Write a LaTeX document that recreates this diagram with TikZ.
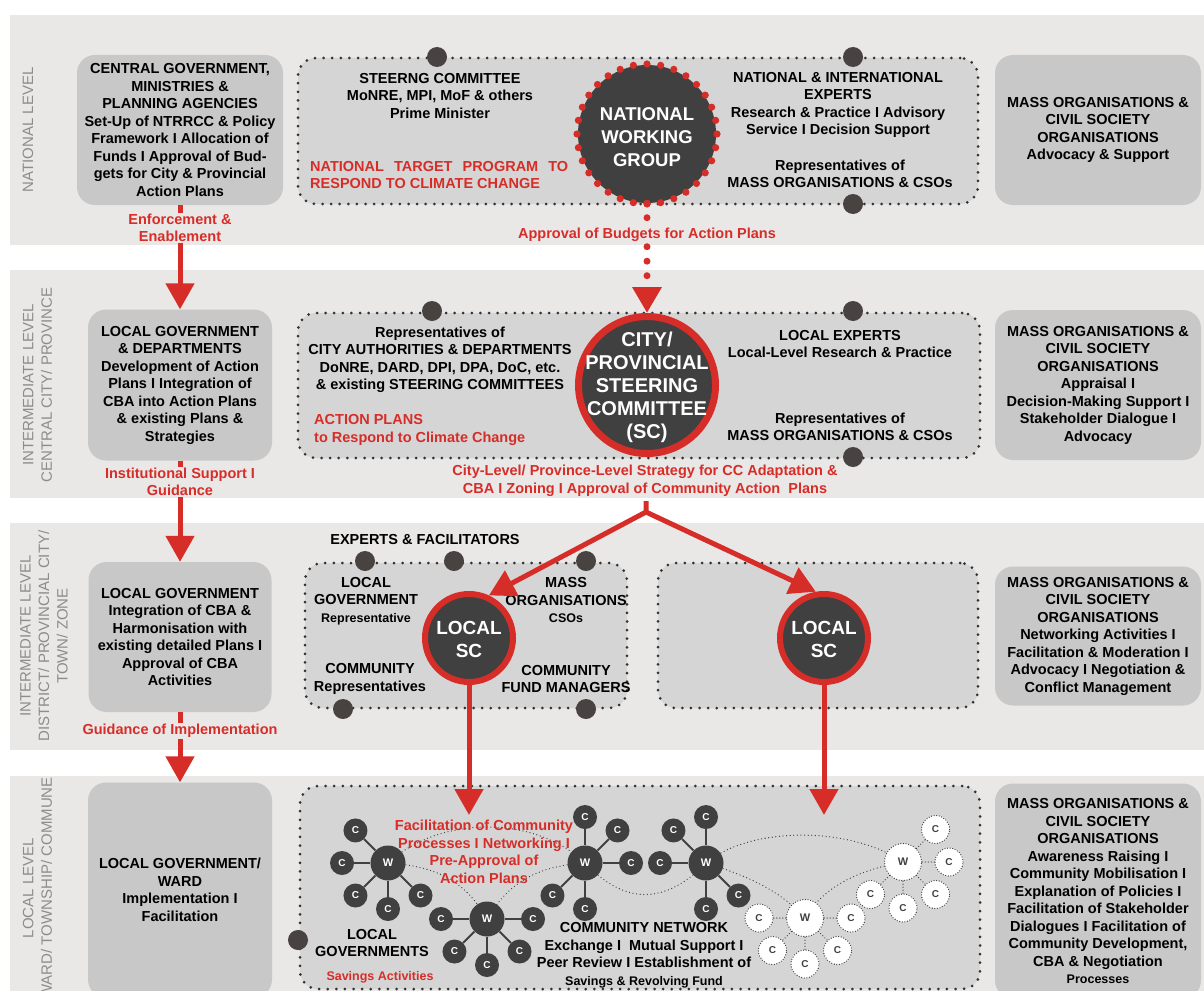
\documentclass[tikz,border=0pt]{standalone}
\usepackage{fontspec}
\setmainfont{Liberation Sans}
\usetikzlibrary{arrows.meta,calc}
\definecolor{bandgray}{RGB}{233,232,231}
\definecolor{boxgray}{RGB}{200,200,200}
\definecolor{groupgray}{RGB}{213,213,213}
\definecolor{nodedark}{RGB}{64,64,64}
\definecolor{markgray}{RGB}{72,66,64}
\definecolor{borderdark}{RGB}{50,50,50}
\definecolor{scred}{RGB}{215,45,40}
\definecolor{levelgray}{RGB}{140,140,140}
\newcommand{\bodytext}{\fontsize{14.5}{17.5}\selectfont\bfseries}
\newcommand{\smalltext}{\fontsize{12.5}{15}\selectfont\bfseries}

\begin{document}
\begin{tikzpicture}[x=1pt,y=-1pt,
  band/.style={fill=bandgray,draw=none},
  sidebox/.style={fill=boxgray,rounded corners=18pt,inner sep=0pt,align=center,font=\bodytext},
  groupbox/.style={fill=groupgray,draw=borderdark,line width=3pt,dash pattern=on 0pt off 8.6pt,line cap=round,rounded corners=18pt,inner sep=0pt},
  marker/.style={circle,fill=markgray,minimum size=20pt,inner sep=0pt},
  bodytxt/.style={font=\bodytext,align=center,inner sep=0pt},
  redlabel/.style={text=scred,font=\bodytext,align=center,inner sep=1pt},
  levellabel/.style={rotate=90,align=center,text=levelgray,font=\fontsize{15}{18.5}\selectfont,inner sep=0pt},
  circtext/.style={text=white,align=center,font=\fontsize{19}{23}\selectfont\bfseries,inner sep=0pt},
  scring/.style={circle,fill=nodedark,draw=scred,line width=7pt,inner sep=0pt},
  redarrow/.style={draw=scred,line width=5pt,-{Triangle[width=28pt,length=26pt]}},
  reddots/.style={draw=scred,line width=7pt,dash pattern=on 0pt off 14.5pt,line cap=round,-{Triangle[width=28pt,length=26pt]}},
  wdark/.style={circle,fill=nodedark,text=white,minimum size=35pt,inner sep=0pt,font=\fontsize{11}{11}\selectfont\bfseries},
  cdark/.style={circle,fill=nodedark,text=white,minimum size=24pt,inner sep=0pt,font=\fontsize{10}{10}\selectfont\bfseries},
  wopen/.style={circle,fill=white,draw=nodedark,line width=1.3pt,dash pattern=on 0pt off 2.6pt,line cap=round,text=nodedark,minimum size=37pt,inner sep=0pt,font=\fontsize{11}{11}\selectfont\bfseries},
  copen/.style={wopen,minimum size=28pt,font=\fontsize{10}{10}\selectfont\bfseries},
  spoke/.style={draw=nodedark,line width=1.8pt},
  spokeopen/.style={draw=nodedark,line width=1.3pt,dash pattern=on 0pt off 3pt,line cap=round},
  netlink/.style={draw=nodedark,line width=1.3pt,dash pattern=on 0pt off 3.6pt,line cap=round}]

  \useasboundingbox (0,0) rectangle (1204,990);
  \clip (0,0) rectangle (1204,990);

  % Level bands
  \fill[band] (10,15) rectangle (1204,245);
  \fill[band] (10,270) rectangle (1204,498);
  \fill[band] (10,523) rectangle (1204,750);
  \fill[band] (10,776) rectangle (1204,1000);

  % Level titles
  \node[levellabel] (lvl1) at (28,130) {NATIONAL LEVEL};
  \node[levellabel] (lvl2) at (37.5,385) {INTERMEDIATE LEVEL\\CENTRAL CITY/ PROVINCE};
  \node[levellabel] (lvl3) at (44,636) {INTERMEDIATE LEVEL\\DISTRICT/ PROVINCIAL CITY/\\TOWN/ ZONE};
  \node[levellabel] (lvl4) at (37.5,888) {LOCAL LEVEL\\WARD/ TOWNSHIP/ COMMUNE};

  % Government column
  \node[sidebox,minimum width=206,minimum height=150] (cg) at (180,130)
    {CENTRAL GOVERNMENT,\\MINISTRIES \&\\PLANNING AGENCIES\\Set-Up of NTRRCC \& Policy\\Framework I Allocation of\\Funds I Approval of Bud-\\gets for City \& Provincial\\Action Plans};
  \node[sidebox,minimum width=184,minimum height=151] (lgd) at (180,385)
    {LOCAL GOVERNMENT\\\& DEPARTMENTS\\Development of Action\\Plans I Integration of\\CBA into Action Plans\\\& existing Plans \&\\Strategies};
  \node[sidebox,minimum width=183,minimum height=150] (lgi) at (180,637)
    {LOCAL GOVERNMENT\\Integration of CBA \&\\Harmonisation with\\existing detailed Plans I\\Approval of CBA\\Activities};
  \node[sidebox,minimum width=184,minimum height=215] (lgw) at (180,890)
    {LOCAL GOVERNMENT/\\WARD\\Implementation I\\Facilitation};

  % Mass organisation column
  \node[sidebox,minimum width=206,minimum height=150] (mo1) at (1098,130)
    {MASS ORGANISATIONS \&\\CIVIL SOCIETY\\ORGANISATIONS\\Advocacy \& Support};
  \node[sidebox,minimum width=206,minimum height=150] (mo2) at (1098,385)
    {MASS ORGANISATIONS \&\\CIVIL SOCIETY\\ORGANISATIONS\\Appraisal I\\Decision-Making Support I\\Stakeholder Dialogue I\\Advocacy};
  \node[sidebox,minimum width=206,minimum height=139] (mo3) at (1098,636)
    {MASS ORGANISATIONS \&\\CIVIL SOCIETY\\ORGANISATIONS\\Networking Activities I\\Facilitation \& Moderation I\\Advocacy I Negotiation \&\\Conflict Management};
  \node[sidebox,minimum width=206,minimum height=215] (mo4) at (1098,891)
    {MASS ORGANISATIONS \&\\CIVIL SOCIETY\\ORGANISATIONS\\Awareness Raising I\\Community Mobilisation I\\Explanation of Policies I\\Facilitation of Stakeholder\\Dialogues I Facilitation of\\Community Development,\\CBA \& Negotiation\\{\smalltext Processes}};

  % Dotted group boxes
  \node[groupbox,minimum width=680,minimum height=146] (grp1) at (638,131) {};
  \node[groupbox,minimum width=682,minimum height=145] (grp2) at (639,385.5) {};
  \node[groupbox,minimum width=322,minimum height=145] (grp3a) at (466,635.5) {};
  \node[groupbox,minimum width=320,minimum height=145] (grp3b) at (818,635.5) {};
  \node[groupbox,minimum width=680,minimum height=203] (grp4) at (640,887.5) {};

  % Markers on the group boxes
  \foreach \p [count=\i] in {{437,57},{853,57},{853,204},{432,311},{853,311},{853,457},
      {365,561},{454,561},{586,561},{343,709},{586,709},{298,940}}
    \node[marker] (mk\i) at (\p) {};

  % Texts in the group boxes
  \node[bodytxt] (steer) at (440,96) {STEERNG COMMITTEE\\MoNRE, MPI, MoF \& others\\Prime Minister};
  \node[bodytxt] (natexp) at (838,105) {NATIONAL \& INTERNATIONAL\\EXPERTS\\Research \& Practice I Advisory\\Service I Decision Support};
  \node[bodytxt] (natrep) at (840,174) {Representatives of\\MASS ORGANISATIONS \& CSOs};
  \node[redlabel,anchor=west,align=left,inner sep=0pt] (ntp) at (310,175)
    {\makebox[258pt][s]{NATIONAL TARGET PROGRAM TO}\\RESPOND TO CLIMATE CHANGE};
  \node[bodytxt] (cityrep) at (440,360) {Representatives of\\CITY AUTHORITIES \& DEPARTMENTS\\DoNRE, DARD, DPI, DPA, DoC, etc.\\\& existing STEERING COMMITTEES};
  \node[redlabel,anchor=west,align=left,inner sep=0pt] (actp) at (314,430) {ACTION PLANS\\to Respond to Climate Change};
  \node[bodytxt] (locexp) at (840,344) {LOCAL EXPERTS\\Local-Level Research \& Practice};
  \node[bodytxt] (cityorg) at (840,427) {Representatives of\\MASS ORGANISATIONS \& CSOs};
  \node[bodytxt] (expfac) at (425,540) {EXPERTS \& FACILITATORS};
  \node[bodytxt] (locgov) at (366,601) {LOCAL\\GOVERNMENT\\{\smalltext Representative}};
  \node[bodytxt] (massorg) at (566,600) {MASS\\ORGANISATIONS\\{\smalltext CSOs}};
  \node[bodytxt] (comrep) at (370,679) {COMMUNITY\\Representatives};
  \node[bodytxt] (comfund) at (566,679) {COMMUNITY\\FUND MANAGERS};

  % Steering circles
  \node[circle,fill=nodedark,minimum size=138,inner sep=0pt] (nwg) at (647,134) {};
  \foreach \a in {0,11.25,...,350}
    \fill[scred] ($(nwg)+(\a:70)$) circle (3.6);
  \node[circtext,font=\fontsize{18.5}{23}\selectfont\bfseries] (nwgtxt) at (647,137) {NATIONAL\\WORKING\\GROUP};
  \node[scring,minimum size=137] (cpsc) at (647,385) {};
  \node[circtext,font=\fontsize{20}{23}\selectfont\bfseries] (cpsctxt) at (647,387) {CITY/\\PROVINCIAL\\STEERING\\COMMITTEE\\(SC)};
  \node[scring,line width=6pt,minimum size=88] (lsc1) at (469,638) {};
  \node[circtext] (lsc1txt) at (469,639) {LOCAL\\SC};
  \node[scring,line width=6pt,minimum size=88] (lsc2) at (824,638) {};
  \node[circtext] (lsc2txt) at (824,639) {LOCAL\\SC};

  % Red connectors
  \draw[redarrow] (cg.south) -- (lgd.north);
  \node[redlabel,fill=bandgray] (enf) at (180,228) {Enforcement \&\\Enablement};
  \draw[redarrow] (lgd.south) -- (lgi.north);
  \node[redlabel,fill=bandgray] (inst) at (180,482) {Institutional Support I\\Guidance};
  \draw[redarrow] (lgi.south) -- (lgw.north);
  \node[redlabel,fill=bandgray] (guid) at (180,731) {Guidance of Implementation};

  \draw[reddots] (nwg.south) -- (cpsc.north);
  \node[redlabel,fill=bandgray] (budg) at (647,235) {Approval of Budgets for Action Plans};
  \node[redlabel] (strat) at (645,481) {City-Level/ Province-Level Strategy for CC Adaptation \&\\CBA I Zoning I Approval of Community Action~~Plans};

  \coordinate (forktop) at (646,501);
  \coordinate (fork) at (646,512);
  \draw[redarrow,line join=miter] (forktop) -- (fork) -- (lsc1.65);
  \draw[redarrow] (fork) -- (lsc2.100);
  \coordinate (tip1) at (469,815);
  \coordinate (tip2) at (lsc2.south |- tip1);
  \draw[redarrow] (lsc1.south) -- (tip1);
  \draw[redarrow] (lsc2.south) -- (tip2);

  % Community network
  \draw[netlink] (388,863) .. controls (440,815) and (535,815) .. (585,863);
  \draw[netlink] (388,863) .. controls (435,866) and (465,880) .. (487,919);
  \draw[netlink] (585,863) .. controls (540,866) and (510,880) .. (487,919);
  \draw[netlink] (585,863) .. controls (625,905) and (665,905) .. (706,863);
  \draw[netlink] (706,863) .. controls (750,826) and (850,826) .. (903,862);
  \draw[netlink] (706,863) .. controls (745,875) and (780,890) .. (805,918);
  \draw[netlink] (805,918) .. controls (825,885) and (860,870) .. (903,862);

  \foreach \n/\p/\as in {w1/{388,863}/{225,180,135,90,45}, w2/{487,919}/{180,0,135,90,45},
      w3/{585,863}/{270,315,0,135,90}, w4/{706,863}/{270,225,180,45,90}}{
    \node[wdark] (\n) at (\p) {W};
    \foreach \a in \as {
      \node[cdark] (\n c\a) at ($(\n)+(\a:46)$) {C};
      \draw[spoke] (\n) -- (\n c\a);
    }
  }
  \foreach \n/\p/\as in {w5/{805,918}/{180,0,135,90,45}, w6/{903,862}/{315,0,135,90,45}}{
    \node[wopen] (\n) at (\p) {W};
    \foreach \a in \as {
      \node[copen] (\n c\a) at ($(\n)+(\a:46)$) {C};
      \draw[spokeopen] (\n) -- (\n c\a);
    }
  }

  % Texts in the local level box
  \node[redlabel,inner sep=0pt] (facil) at (484,852) {Facilitation of Community\\Processes I Networking I\\Pre-Approval of\\Action Plans};
  \node[bodytxt] (locgovs) at (372,943) {LOCAL\\GOVERNMENTS};
  \node[redlabel,font=\smalltext,inner sep=0pt] (savact) at (380,977) {Savings Activities};
  \node[bodytxt] (comnet) at (644,955) {COMMUNITY NETWORK\\Exchange I~~Mutual Support I\\Peer Review I Establishment of\\{\smalltext Savings \& Revolving Fund}};
\end{tikzpicture}
\end{document}
